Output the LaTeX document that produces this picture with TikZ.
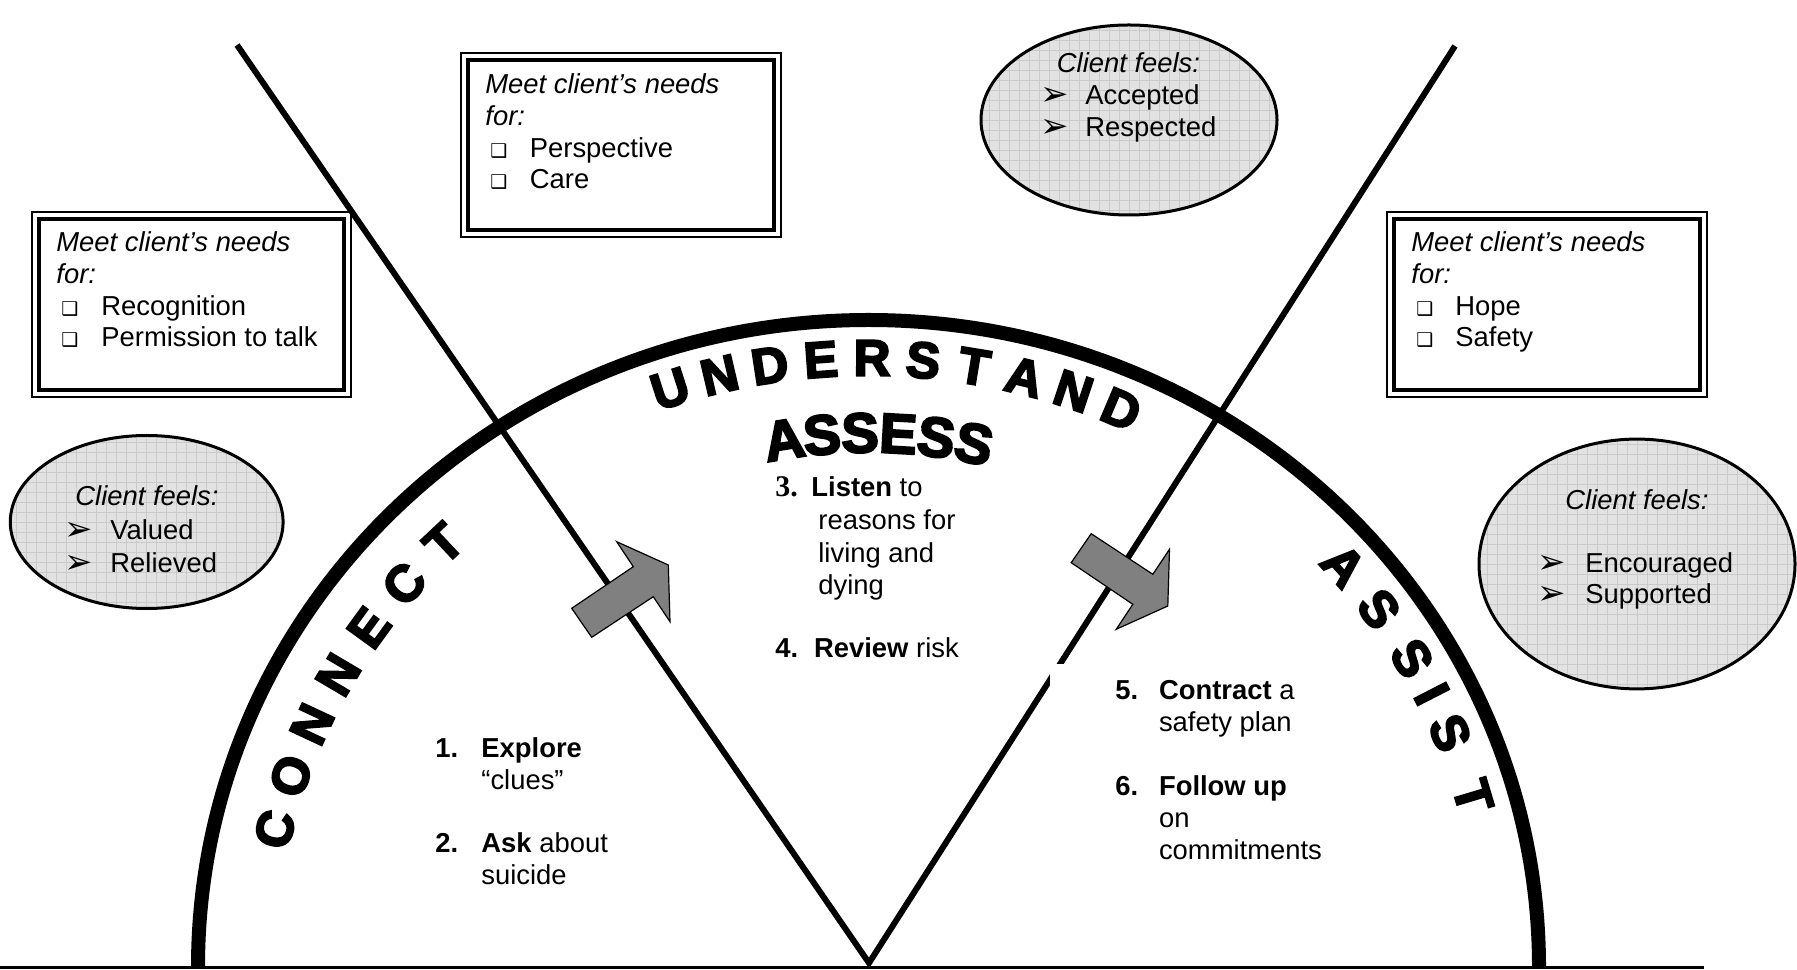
\documentclass[tikz,border=0pt]{standalone}
\usepackage{fontspec}
\setmainfont{Liberation Sans}
\newfontfamily\symfont{DejaVu Sans}
\newfontfamily\timesfont{Liberation Serif}
\newfontfamily\heavyfont[BoldFeatures={FakeBold=4}]{Liberation Sans}
\usetikzlibrary{shapes.geometric}

\definecolor{feelgray}{HTML}{E2E2E2}
\definecolor{gridgray}{HTML}{CACACA}
\definecolor{arrowgray}{HTML}{808080}

\tikzset{
  txt/.style={anchor=base west, inner sep=0, font=\fontsize{13.7pt}{16pt}\selectfont},
  itxt/.style={anchor=base west, inner sep=0, font=\fontsize{13.7pt}{16pt}\selectfont\itshape},
  ctxt/.style={anchor=base, inner sep=0, font=\fontsize{13.7pt}{16pt}\selectfont\itshape},
  sq/.style={anchor=base west, inner sep=0, font=\symfont\fontsize{9.5pt}{9.5pt}\selectfont},
  ar/.style={anchor=base west, inner sep=0, font=\symfont\fontsize{17pt}{17pt}\selectfont},
  needbox/.style={draw, line width=0.9pt, fill=white, inner sep=0,
    path picture={\draw[line width=1.8pt] ([shift={(7,7)}]path picture bounding box.south west) rectangle ([shift={(-7,-7)}]path picture bounding box.north east);}},
  feel/.style={ellipse, draw, line width=1.5pt, fill=feelgray, inner sep=0,
    path picture={\draw[gridgray, line width=0.4pt, step=5pt] (path picture bounding box.south west) grid (path picture bounding box.north east);}},
  bigletter/.style={inner sep=0, font=\heavyfont\bfseries\fontsize{25.5pt}{25.5pt}\selectfont},
  hugeletter/.style={inner sep=0, font=\heavyfont\bfseries\fontsize{28pt}{28pt}\selectfont},
  blockarrow/.style={draw, fill=arrowgray, line width=0.6pt, line join=miter},
  vline/.style={line width=3pt, line join=miter},
}

\newcommand\arcletter[6]{%
  \pgfmathsetmacro\alX{868+#2*cos(#4)}%
  \pgfmathsetmacro\alY{2+#3*sin(#4)}%
  \pgfmathsetmacro\alR{atan2(-#3*cos(#4),#2*sin(#4))}%
  \node[#6, rotate=\alR] (#1) at (\alX,\alY) {#5};}

\begin{document}
\begin{tikzpicture}[x=0.5pt,y=0.5pt]
\useasboundingbox (0,0) rectangle (1797,969);

% ---- need boxes
\node[needbox, minimum width=159.5pt, minimum height=92.5pt] (b1) at (191.5,664.5) {};
\node[needbox, minimum width=160pt, minimum height=92pt] (b2) at (621,824) {};
\node[needbox, minimum width=160pt, minimum height=92.5pt] (b3) at (1547,664.5) {};

\node[itxt] (t1a) at (56,717) {Meet client’s needs};
\node[itxt] (t1b) at (56,685) {for:};
\node[sq] (s1a) at (61,653) {❑};
\node[txt] (t1c) at (101,653) {Recognition};
\node[sq] (s1b) at (61,622) {❑};
\node[txt] (t1d) at (101,622) {Permission to talk};

\node[itxt] (t2a) at (485,875) {Meet client’s needs};
\node[itxt] (t2b) at (485,843) {for:};
\node[sq] (s2a) at (490,811) {❑};
\node[txt] (t2c) at (529.5,811) {Perspective};
\node[sq] (s2b) at (490,780) {❑};
\node[txt] (t2d) at (529.5,780) {Care};

\node[itxt] (t3a) at (1411,717) {Meet client’s needs};
\node[itxt] (t3b) at (1411,685) {for:};
\node[sq] (s3a) at (1416,653) {❑};
\node[txt] (t3c) at (1455,653) {Hope};
\node[sq] (s3b) at (1416,622) {❑};
\node[txt] (t3d) at (1455,622) {Safety};

% ---- feeling ellipses
\node[feel, minimum width=136.4pt, minimum height=86.5pt] (e1) at (146.7,447) {};
\node[feel, minimum width=148pt, minimum height=95pt] (e2) at (1129,849) {};
\node[feel, minimum width=158pt, minimum height=124.9pt] (e3) at (1637,405) {};

\node[ctxt] (f1) at (147,463) {Client feels:};
\node[ar] (a1a) at (64,428) {➢};
\node[txt] (f1a) at (110,429) {Valued};
\node[ar] (a1b) at (64,395) {➢};
\node[txt] (f1b) at (110,396) {Relieved};

\node[ctxt] (f2) at (1128.5,896) {Client feels:};
\node[ar] (a2a) at (1040,863) {➢};
\node[txt] (f2a) at (1085,864) {Accepted};
\node[ar] (a2b) at (1040,831) {➢};
\node[txt] (f2b) at (1085,832) {Respected};

\node[ctxt] (f3) at (1637,459) {Client feels:};
\node[ar] (a3a) at (1537,395) {➢};
\node[txt] (f3a) at (1585,396) {Encouraged};
\node[ar] (a3b) at (1537,364) {➢};
\node[txt] (f3b) at (1585,365) {Supported};

% ---- base line, V lines, arc
\coordinate (bl) at (0,2);
\coordinate (br) at (1704,2);
\coordinate (ltop) at (237,924);
\coordinate (vtx) at (869,6);
\coordinate (rtop) at (1455,923);
\coordinate (arcstart) at (198,2);
\draw[line width=1.5pt] (bl) -- (br);
\draw[vline] (ltop) -- (vtx) -- (rtop);
\draw[line width=7pt] (arcstart) arc[start angle=180, end angle=0, x radius=335.25pt, y radius=323.5pt];

% ---- block arrows
\draw[blockarrow] (571.7,360.7) -- (633.3,402.3) -- (616.7,427.3) -- (668.3,404) -- (670,347.3) -- (653.3,372.3) -- (591.7,331.7) -- cycle;
\draw[blockarrow] (1071.2,406.3) -- (1132.8,364.7) -- (1116.2,339.7) -- (1167.8,363) -- (1169.5,419.7) -- (1152.8,394.7) -- (1091.2,435.3) -- cycle;

% ---- white text patch over the right line
\fill[white] (1050,305) rectangle (1330,80);

% ---- steps
\node[txt] (n1) at (435,212) {\textbf{1.}};
\node[txt] (n1a) at (481,212) {\textbf{Explore}};
\node[txt] (n1b) at (481,180) {“clues”};
\node[txt] (n2) at (435,117) {\textbf{2.}};
\node[txt] (n2a) at (481,117) {\textbf{Ask} about};
\node[txt] (n2b) at (481,84.5) {suicide};

\node[txt] (n3) at (775,472) {\timesfont\bfseries\fontsize{15pt}{16pt}\selectfont 3.};
\node[txt] (n3a) at (811,472) {\textbf{Listen} to};
\node[txt] (n3b) at (818,439) {reasons for};
\node[txt] (n3c) at (818,406.5) {living and};
\node[txt] (n3d) at (818,374.4) {dying};
\node[txt] (n4) at (775,311.4) {\textbf{4.}};
\node[txt] (n4a) at (813.7,311.4) {\textbf{Review} risk};

\node[txt] (n5) at (1115,269) {\textbf{5.}};
\node[txt] (n5a) at (1158.6,269) {\textbf{Contract} a};
\node[txt] (n5b) at (1158.6,237) {safety plan};
\node[txt] (n6) at (1115,174) {\textbf{6.}};
\node[txt] (n6a) at (1158.6,174) {\textbf{Follow up}};
\node[txt] (n6b) at (1158.6,142) {on};
\node[txt] (n6c) at (1158.6,110) {commitments};

% ---- arc words
\foreach \L/\t [count=\i] in {C/166.5,O/161.1,N/155.7,N/150.3,E/144.9,C/139.5,T/134.1}
  {\arcletter{con\i}{610}{590}{\t}{\L}{bigletter}}
\foreach \L/\t [count=\i] in {U/108.3,N/103.63,D/98.97,E/94.3,R/89.63,S/84.97,T/80.3,A/75.63,N/70.97,D/66.3}
  {\arcletter{und\i}{630}{609}{\t}{\L}{bigletter}}
\foreach \L/\t [count=\i] in {A/41,S/35.8,S/30.3,I/26.5,S/22.5,T/16.2}
  {\arcletter{asi\i}{630}{612}{\t}{\L}{bigletter}}
\foreach \L/\t [count=\i] in {A/99.05,S/94.95,S/90.85,E/86.75,S/82.65,S/78.55}
  {\arcletter{ase\i}{534}{534}{\t}{\L}{hugeletter}}

\end{tikzpicture}
\end{document}
